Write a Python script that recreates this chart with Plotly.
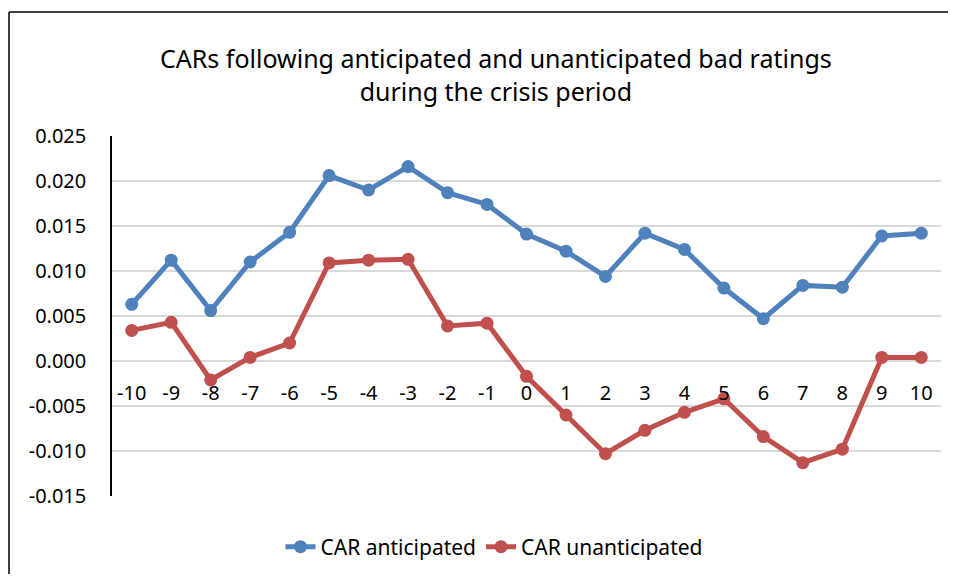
import plotly.graph_objects as go

days = list(range(-10, 11))
car_anticipated = [0.0063, 0.0112, 0.0056, 0.0110, 0.0143, 0.0206, 0.0190, 0.0216, 0.0187, 0.0174,
                   0.0141, 0.0122, 0.0094, 0.0142, 0.0124, 0.0081, 0.0047, 0.0084, 0.0082, 0.0139, 0.0142]
car_unanticipated = [0.0034, 0.0043, -0.0021, 0.0004, 0.0020, 0.0109, 0.0112, 0.0113, 0.0039, 0.0042,
                     -0.0017, -0.0060, -0.0103, -0.0077, -0.0057, -0.0042, -0.0084, -0.0113, -0.0098, 0.0004, 0.0004]
y_ticks = [-0.015, -0.010, -0.005, 0.000, 0.005, 0.010, 0.015, 0.020, 0.025]

OFF = 8  # default page body margin
W, H = 956 - 2 * OFF, 582 - 2 * OFF
L, R, T, B = 112 - OFF, 941 - OFF, 136 - OFF, 496 - OFF
FONT = "Noto Sans"

def px_x(px):
    return (px - OFF - L) / (R - L)

def px_y(py):
    return (B - (py - OFF)) / (B - T)

fig = go.Figure()
fig.add_trace(go.Scatter(x=days, y=car_anticipated, mode="lines+markers", name="CAR anticipated",
                         line=dict(color="#4F81BD", width=5), marker=dict(size=13, color="#4F81BD")))
fig.add_trace(go.Scatter(x=days, y=car_unanticipated, mode="lines+markers", name="CAR unanticipated",
                         line=dict(color="#C0504D", width=5), marker=dict(size=13, color="#C0504D")))

fig.update_layout(
    width=W, height=H,
    margin=dict(l=L, r=W - R, t=T, b=H - B, pad=0),
    paper_bgcolor="white", plot_bgcolor="white",
    font=dict(family=FONT, size=20, color="black"),
    showlegend=True,
    legend=dict(orientation="h", x=px_x(494), y=px_y(547), xanchor="center", yanchor="middle",
                font=dict(size=21), traceorder="normal"),
    xaxis=dict(range=[-10.5, 10.5], tickmode="array", tickvals=days, ticktext=[str(d) for d in days],
               anchor="free", position=px_y(361), showgrid=False, zeroline=False,
               showline=False, ticks="outside", ticklen=14, tickcolor="rgba(0,0,0,0)",
               tickfont=dict(size=20)),
    yaxis=dict(range=[-0.015, 0.025], tickmode="array", tickvals=y_ticks,
               ticktext=[f"{v:.3f}" for v in y_ticks], showgrid=True, gridcolor="#D9D9D9", gridwidth=1.5,
               zeroline=False, showline=True, linecolor="black", linewidth=1.5,
               ticks="outside", ticklen=20, tickcolor="rgba(0,0,0,0)", tickfont=dict(size=20)),
    annotations=[dict(text="CARs following anticipated and unanticipated bad ratings<br>during the crisis period",
                      xref="paper", yref="paper", x=px_x(496), y=px_y(75), xanchor="center", yanchor="middle",
                      showarrow=False, font=dict(size=25, family=FONT))],
    shapes=[
        dict(type="line", xref="paper", yref="paper", x0=px_x(9), x1=px_x(956), y0=px_y(12), y1=px_y(12),
             line=dict(color="black", width=1.5), layer="below"),
        dict(type="line", xref="paper", yref="paper", x0=px_x(9), x1=px_x(9), y0=px_y(12), y1=px_y(582),
             line=dict(color="black", width=1.5), layer="below"),
    ],
)

fig.write_html("out.html")
